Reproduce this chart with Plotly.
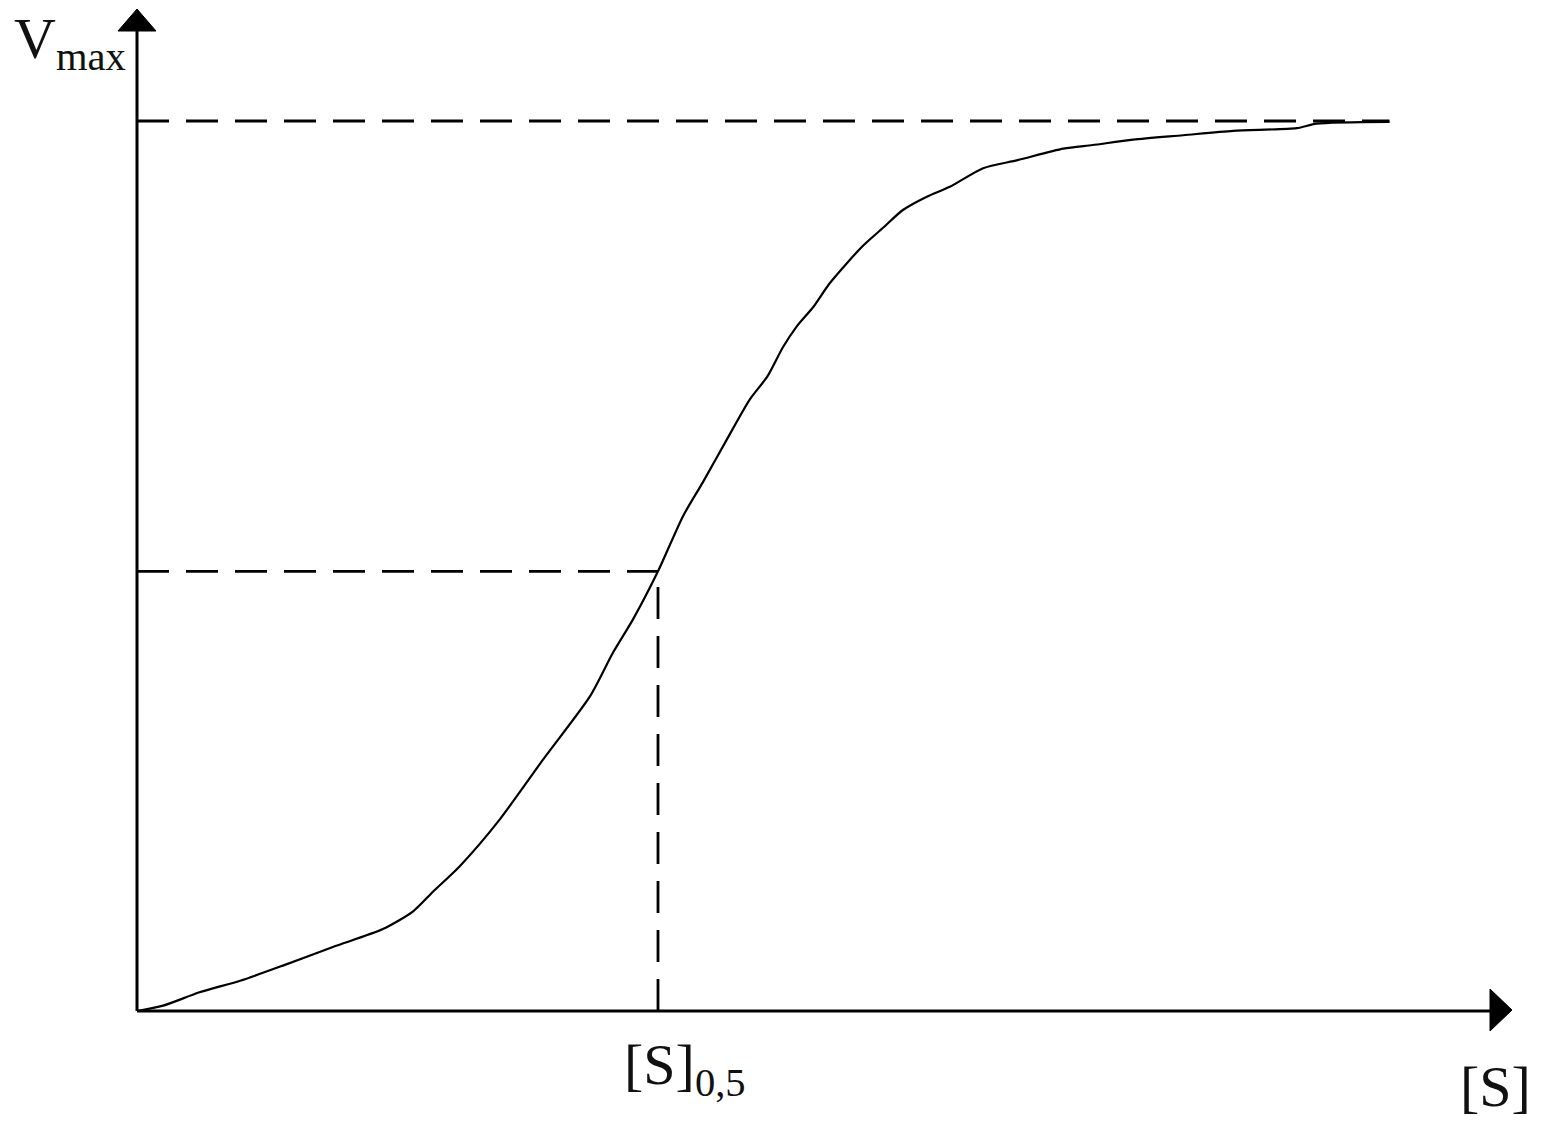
import plotly.graph_objects as go

# ---------------- data ----------------
s_values = [0.0, 0.25, 0.60, 0.99, 1.40, 1.88, 2.36, 2.65, 2.84, 3.10, 3.48,
            3.90, 4.35, 4.57, 4.76, 5.00, 5.24, 5.43, 5.66, 5.88, 6.05, 6.20,
            6.33, 6.49, 6.65, 6.96, 7.16, 7.35, 7.58, 7.80, 8.12, 8.45, 8.89,
            9.17, 9.56, 10.04, 10.52, 11.13, 11.32, 12.02]
v_values = [0.0, 0.006, 0.021, 0.034, 0.051, 0.072, 0.092, 0.112, 0.134, 0.163,
            0.215, 0.283, 0.354, 0.403, 0.440, 0.494, 0.556, 0.594, 0.642, 0.687,
            0.713, 0.746, 0.769, 0.791, 0.818, 0.859, 0.880, 0.900, 0.915, 0.926,
            0.947, 0.956, 0.969, 0.973, 0.979, 0.984, 0.989, 0.992, 0.997, 0.999]

VMAX = 1.0
S_HALF = 5.0
V_HALF = 0.494
S_END = 12.02

label_vmax = "V<sub>max</sub>"
label_shalf = "[S]<sub>0,5</sub>"
label_s = "[S]"

# ---------------- layout geometry ----------------
W, H = 1543, 1126
X0_PX, Y0_PX = 137, 1011
PX_PER_X = 104.2
PX_PER_Y = 890


def px_to_x(px):
    return (px - X0_PX) / PX_PER_X


def py_to_y(py):
    return (Y0_PX - py) / PX_PER_Y


x_range = [px_to_x(0), px_to_x(W)]
y_range = [py_to_y(H), py_to_y(0)]

BLACK = "#000000"
DASH = "32px,17px"

fig = go.Figure()

# curve
fig.add_trace(go.Scatter(x=s_values, y=v_values, mode="lines",
                         line=dict(color=BLACK, width=2.2, shape="spline", smoothing=0.7),
                         hoverinfo="skip"))
# Vmax dashed line
fig.add_trace(go.Scatter(x=[0, S_END], y=[VMAX, VMAX], mode="lines",
                         line=dict(color=BLACK, width=2.8, dash=DASH), hoverinfo="skip"))
# half-saturation guides
fig.add_trace(go.Scatter(x=[0, S_HALF], y=[V_HALF, V_HALF], mode="lines",
                         line=dict(color=BLACK, width=2.8, dash=DASH), hoverinfo="skip"))
fig.add_trace(go.Scatter(x=[S_HALF, S_HALF], y=[0, V_HALF], mode="lines",
                         line=dict(color=BLACK, width=2.8, dash=DASH), hoverinfo="skip"))

shapes = [
    # axes
    dict(type="line", x0=0, y0=0, x1=px_to_x(1495), y1=0,
         line=dict(color=BLACK, width=3)),
    dict(type="line", x0=0, y0=0, x1=0, y1=py_to_y(28),
         line=dict(color=BLACK, width=3)),
    # arrowheads
    dict(type="path",
         path=f"M {px_to_x(1512)} {py_to_y(1010)} L {px_to_x(1490)} {py_to_y(989)} "
              f"L {px_to_x(1490)} {py_to_y(1031)} Z",
         fillcolor=BLACK, line=dict(color=BLACK, width=1)),
    dict(type="path",
         path=f"M {px_to_x(137)} {py_to_y(9)} L {px_to_x(118)} {py_to_y(31)} "
              f"L {px_to_x(156)} {py_to_y(31)} Z",
         fillcolor=BLACK, line=dict(color=BLACK, width=1)),
]

font = dict(family="Liberation Serif, Times New Roman, serif", color="#111111", size=58)
annotations = [
    dict(text=label_vmax, x=12 / W, y=1 - 4 / H, xref="paper", yref="paper",
         xanchor="left", yanchor="top", showarrow=False, font=font),
    dict(text=label_shalf, x=622 / W, y=1 - 1030 / H, xref="paper", yref="paper",
         xanchor="left", yanchor="top", showarrow=False, font=font),
    dict(text=label_s, x=1458 / W, y=1 - 1052 / H, xref="paper", yref="paper",
         xanchor="left", yanchor="top", showarrow=False, font=font),
]

fig.update_layout(
    width=W, height=H, autosize=False,
    margin=dict(l=0, r=0, t=0, b=0, pad=0),
    paper_bgcolor="white", plot_bgcolor="white",
    showlegend=False,
    xaxis=dict(range=x_range, visible=False, fixedrange=True),
    yaxis=dict(range=y_range, visible=False, fixedrange=True),
    shapes=shapes, annotations=annotations,
)

fig.write_html("out.html", config={"displayModeBar": False},
               post_script="document.body.style.margin='0';document.body.style.overflow='hidden';")
